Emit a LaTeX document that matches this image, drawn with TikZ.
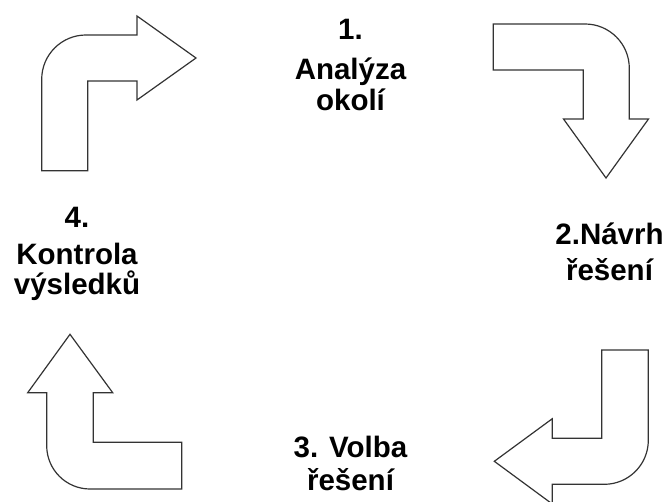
\documentclass[tikz,border=0pt]{standalone}
\usepackage{fontspec}
\setmainfont{Liberation Sans}
\begin{document}
\begin{tikzpicture}[x=1pt,y=-1pt,
  bentarrow/.style={draw=black!80,line width=1.2pt,fill=white,line join=miter},
  lbl/.style={anchor=base,inner sep=0pt,font=\fontsize{29.5}{33}\selectfont\bfseries}]
\useasboundingbox (0,0) rectangle (668,502);
% arrow 1 (top-left, pointing right)
\draw[bentarrow] (41.7,170.7) -- (87.7,170.7) -- (87.7,81) -- (137,81) -- (137,100)
  -- (196,58) -- (137,16) -- (137,35) -- (86,35)
  .. controls (61.5,35) and (41.7,54.8) .. (41.7,79.3) -- cycle;
% arrow 2 (top-right, pointing down)
\draw[bentarrow] (493.3,24) -- (585,24)
  .. controls (609.5,24) and (629.3,43.8) .. (629.3,68.3) -- (629.3,119) -- (648.5,119)
  -- (606,178) -- (563.5,119) -- (583.3,119) -- (583.3,70) -- (493.3,70) -- cycle;
% arrow 3 (bottom-right, pointing left)
\draw[bentarrow] (601.7,350) -- (648.3,350) -- (648.3,440.3)
  .. controls (648.3,464.6) and (628.6,484.3) .. (604.3,484.3) -- (552.3,484.3) -- (552.3,504)
  -- (494.3,461.3) -- (552.3,418.7) -- (552.3,438.3) -- (601.7,438.3) -- cycle;
% arrow 4 (bottom-left, pointing up)
\draw[bentarrow] (70,334.3) -- (112.7,392.7) -- (93.3,392.7) -- (93.3,442.3) -- (181.7,442.3)
  -- (181.7,489) -- (90,489) .. controls (66.1,489) and (46.7,469.6) .. (46.7,445.7)
  -- (46.7,392.7) -- (27.7,392.7) -- cycle;
% labels
\node[lbl] (t1a) at (350.5,40) {1.};
\node[lbl] (t1b) at (350.5,80) {Analýza};
\node[lbl] (t1c) at (350.5,111) {okolí};
\node[lbl] (t2a) at (609.5,245) {2.Návrh};
\node[lbl] (t2b) at (609.5,280) {řešení};
\node[lbl] (t3a) at (350.5,457) {3. Volba};
\node[lbl] (t3b) at (350.5,490) {řešení};
\node[lbl] (t4a) at (77,228) {4.};
\node[lbl] (t4b) at (77,264) {Kontrola};
\node[lbl] (t4c) at (77,294) {výsledků};
\end{tikzpicture}
\end{document}
